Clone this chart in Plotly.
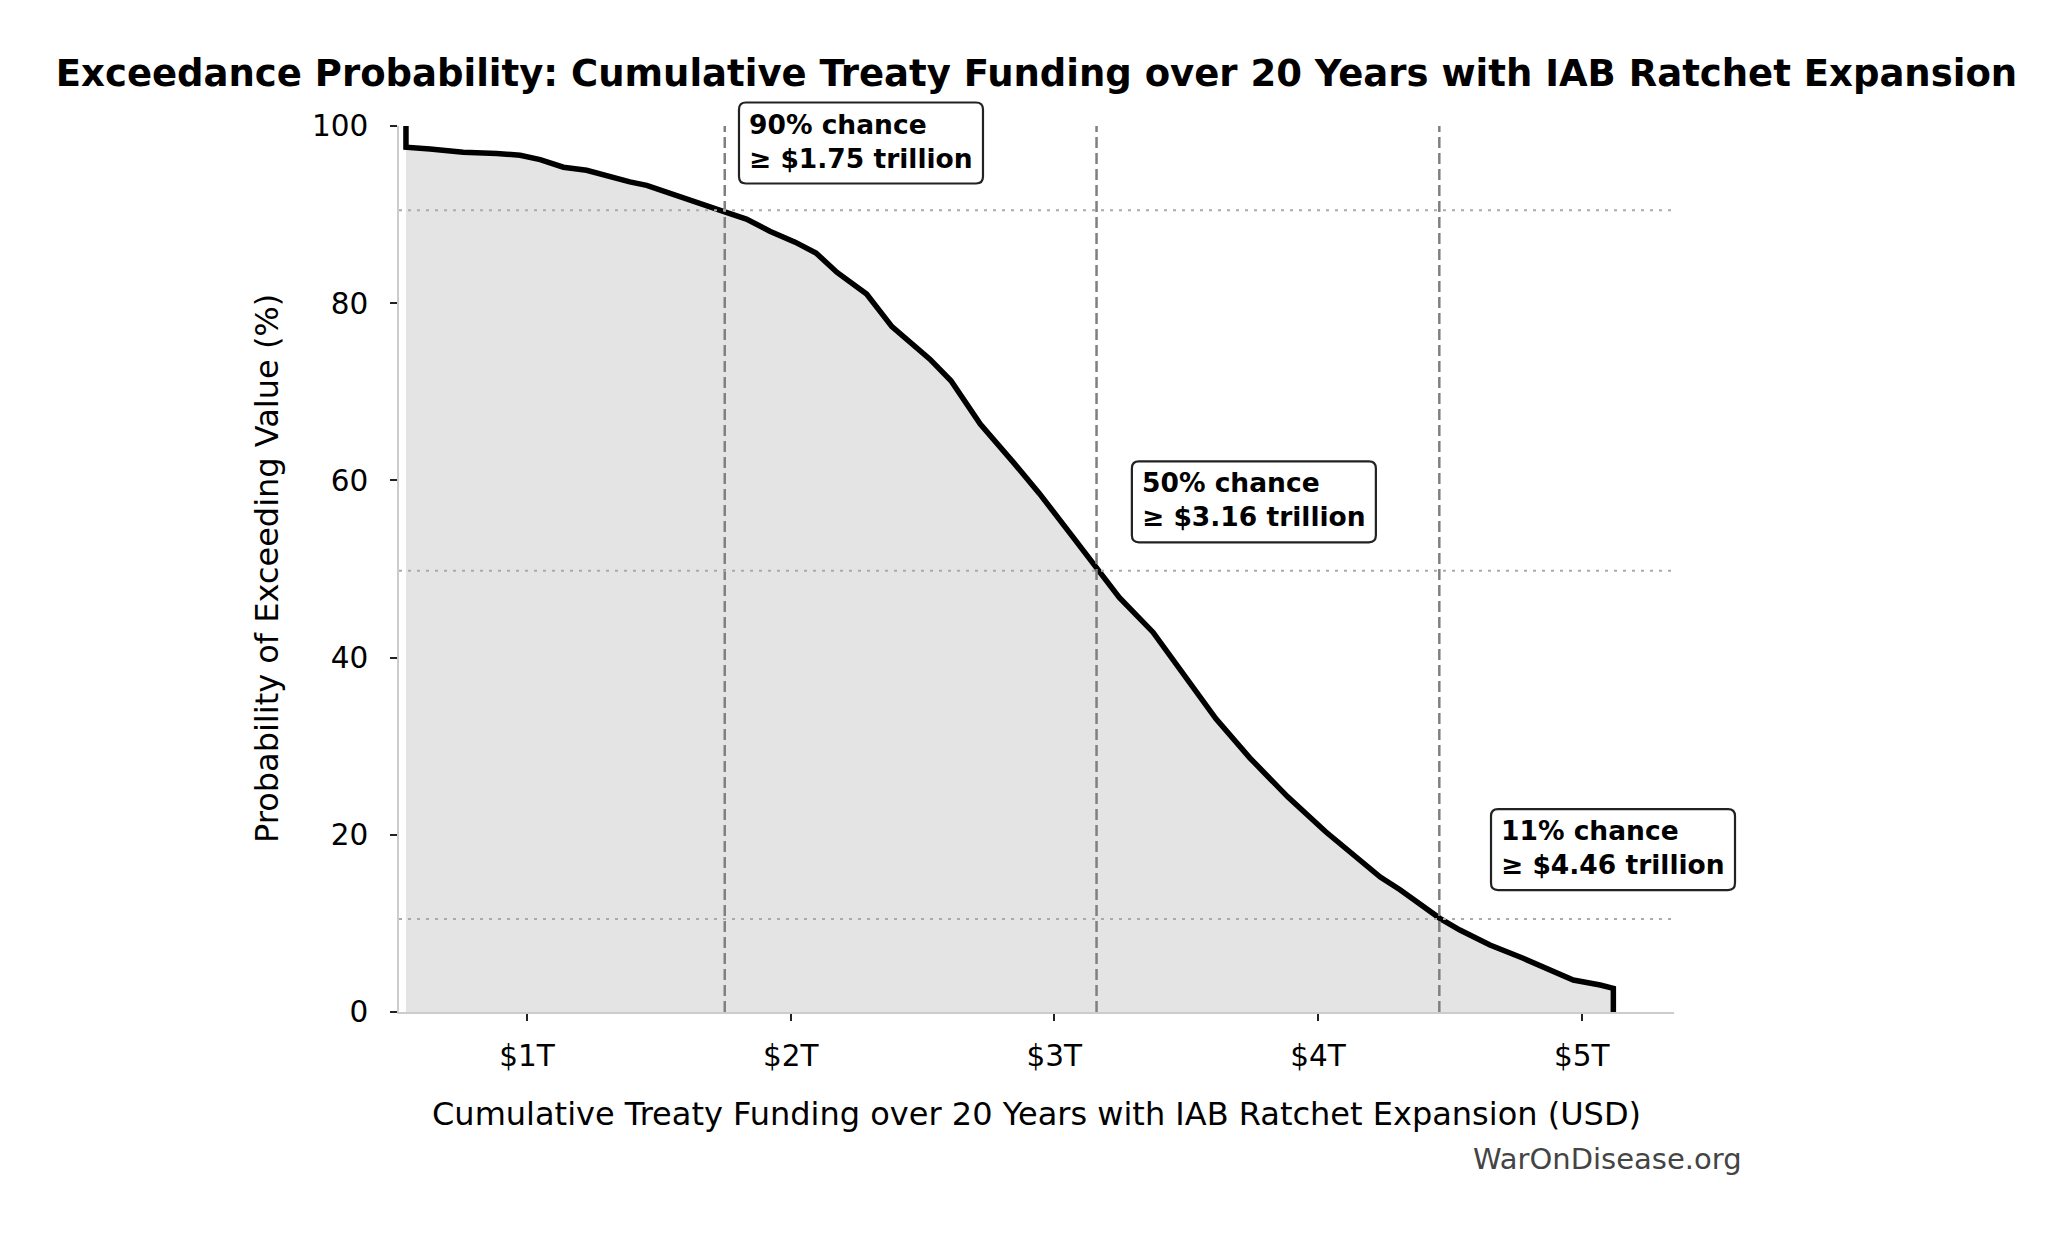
import plotly.graph_objects as go

# ---- data ----
funding_trillions = [0.541, 0.541, 0.632, 0.758, 0.885, 0.974, 1.05, 1.138, 1.226, 1.327,
                     1.39, 1.454, 1.53, 1.605, 1.694, 1.75, 1.832, 1.921, 2.017, 2.096,
                     2.176, 2.288, 2.384, 2.528, 2.608, 2.719, 2.847, 2.943, 3.07, 3.166,
                     3.246, 3.374, 3.518, 3.613, 3.741, 3.885, 4.028, 4.236, 4.311, 4.387,
                     4.462, 4.538, 4.652, 4.778, 4.88, 4.968, 5.07, 5.12, 5.12]
exceed_pct = [100.0, 97.6, 97.4, 97.05, 96.9, 96.7, 96.2, 95.35, 95.0, 94.15,
              93.7, 93.3, 92.5, 91.7, 90.8, 90.3, 89.5, 88.12, 86.89, 85.67,
              83.47, 81.03, 77.36, 73.68, 71.24, 66.35, 61.95, 58.53, 53.63, 49.81,
              46.78, 42.87, 37.0, 33.09, 28.69, 24.28, 20.37, 15.23, 13.8, 12.26,
              10.57, 9.25, 7.56, 6.06, 4.74, 3.61, 3.05, 2.67, 0.0]

marker_values = [1.75, 3.16, 4.46]          # trillions USD
marker_probs = [90.5, 49.8, 10.5]           # % level lines
marker_labels = ["90% chance", "50% chance", "11% chance"]
marker_value_text = ["≥ $1.75 trillion", "≥ $3.16 trillion", "≥ $4.46 trillion"]

tick_vals = [1, 2, 3, 4, 5]
tick_text = ["$1T", "$2T", "$3T", "$4T", "$5T"]
y_tick_vals = [0, 20, 40, 60, 80, 100]

title_text = "Exceedance Probability: Cumulative Treaty Funding over 20 Years with IAB Ratchet Expansion"
x_title = "Cumulative Treaty Funding over 20 Years with IAB Ratchet Expansion (USD)"
y_title = "Probability of Exceeding Value (%)"
watermark = "WarOnDisease.org"

# ---- layout helpers ----
X_RANGE = [0.5146, 5.35]
# annotation box top-left corners: x in data units, y in % of axis height
box_pos = [(1.804, 102.65), (3.294, 62.15), (4.656, 22.9)]
BOX_W, BOX_H, BOX_R = 244, 81, 7

FONT = "DejaVu Sans"

fig = go.Figure()
fig.add_trace(go.Scatter(
    x=funding_trillions, y=exceed_pct, mode="lines",
    line=dict(color="black", width=5.5),
    fill="tozeroy", fillcolor="#e4e4e4",
    hoverinfo="skip", showlegend=False,
))

shapes = []
for v in marker_values:
    shapes.append(dict(type="line", xref="x", yref="y", x0=v, x1=v, y0=0, y1=100,
                       line=dict(color="#808080", width=2.5, dash="11px,5px"), layer="above"))
for p in marker_probs:
    shapes.append(dict(type="line", xref="paper", yref="y", x0=0, x1=1, y0=p, y1=p,
                       line=dict(color="#aaaaaa", width=2, dash="3px,6px"), layer="above"))

W, H, R = BOX_W, BOX_H, BOX_R
rounded_path = (f"M {R},0 L {W-R},0 Q {W},0 {W},{-R} L {W},{-H+R} Q {W},{-H} {W-R},{-H} "
                f"L {R},{-H} Q 0,{-H} 0,{-H+R} L 0,{-R} Q 0,0 {R},0 Z")

annotations = []
for (bx, by), lab, vt in zip(box_pos, marker_labels, marker_value_text):
    px = (bx - X_RANGE[0]) / (X_RANGE[1] - X_RANGE[0])
    shapes.append(dict(type="path", xref="paper", yref="paper", xsizemode="pixel",
                       ysizemode="pixel", xanchor=px, yanchor=by / 100.0,
                       path=rounded_path, fillcolor="white",
                       line=dict(color="#222222", width=2.2), layer="above"))
    annotations.append(dict(
        x=px, y=by / 100.0, xref="paper", yref="paper", xanchor="left", yanchor="top",
        text=f"<b>{lab}<br>{vt}</b>", showarrow=False, align="left",
        font=dict(family=FONT, size=26.5, color="black"),
        bgcolor="rgba(0,0,0,0)", borderwidth=0, borderpad=8, yshift=2, xshift=2,
    ))

annotations.append(dict(x=0.5, y=-0.115, xref="paper", yref="paper", xanchor="center",
                        yanchor="middle", text=x_title, showarrow=False,
                        font=dict(family=FONT, size=32, color="black")))
annotations.append(dict(x=-0.1035, y=0.5, xref="paper", yref="paper", xanchor="center",
                        yanchor="middle", text=y_title, showarrow=False, textangle=-90,
                        font=dict(family=FONT, size=32, color="black")))
annotations.append(dict(x=1.0549, y=-0.1658, xref="paper", yref="paper", xanchor="right",
                        yanchor="middle", text=watermark, showarrow=False,
                        font=dict(family=FONT, size=29, color="#444444")))

fig.update_layout(
    width=2072, height=1233,
    margin=dict(l=399, r=398, t=125.5, b=221),
    paper_bgcolor="white", plot_bgcolor="white",
    title=dict(text=f"<b>{title_text}</b>", x=0.5, xref="paper", xanchor="center",
               y=1 - 73 / 1233, yref="container", yanchor="middle",
               font=dict(family=FONT, size=37, color="black")),
    shapes=shapes, annotations=annotations,
    xaxis=dict(range=X_RANGE, tickvals=tick_vals, ticktext=tick_text,
               showgrid=False, zeroline=False, showline=True, linecolor="#cccccc",
               linewidth=1.5, ticks="outside", ticklen=7, tickwidth=1.5, tickcolor="#222222",
               ticklabelstandoff=10,
               tickfont=dict(family=FONT, size=29.5, color="black")),
    yaxis=dict(range=[0, 100], tickvals=y_tick_vals,
               showgrid=False, zeroline=False, showline=True, linecolor="#cccccc",
               linewidth=1.5, ticks="outside", ticklen=7, tickwidth=1.5, tickcolor="#222222",
               ticklabelstandoff=16,
               tickfont=dict(family=FONT, size=29.5, color="black")),
)

fig.write_html("out.html")
